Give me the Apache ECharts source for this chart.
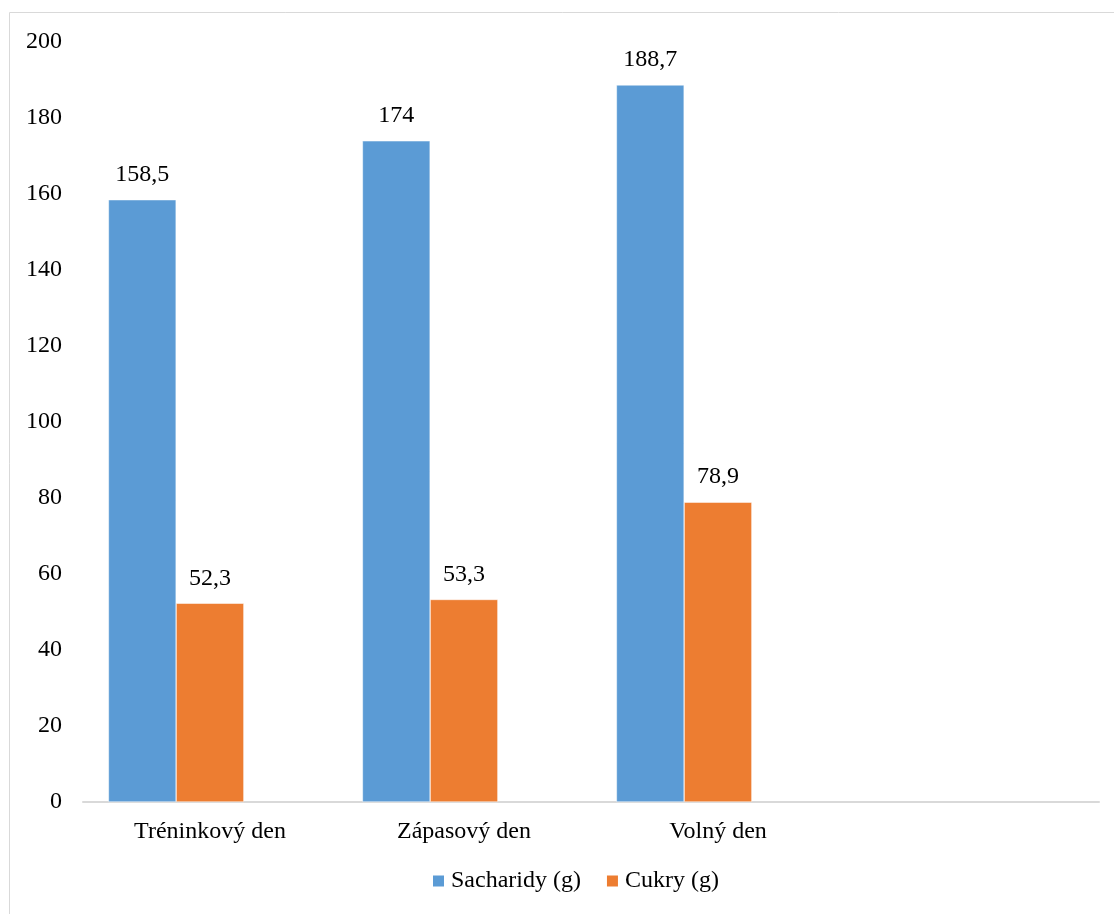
<!DOCTYPE html>
<html>
<head>
<meta charset="utf-8">
<script src="https://cdn.jsdelivr.net/npm/echarts@6/dist/echarts.min.js"></script>
<style>html,body{margin:0;padding:0;background:#fff}#c{width:1114px;height:914px}</style>
</head>
<body>
<div id="c"></div>
<script>
const categories = ['Tréninkový den', 'Zápasový den', 'Volný den', ''];
const sacharidy = [158.5, 174, 188.7, null];
const cukry = [52.3, 53.3, 78.9, null];
const emptySeries = [null, null, null, null];
const yTicks = { min: 0, max: 200, interval: 20 };

const font = '"Liberation Serif", "Times New Roman", serif';
const fs = 24;
const fmt = p => String(p.value).replace('.', ',');
const chart = echarts.init(document.getElementById('c'));
chart.setOption({
  animation: false,
  textStyle: { fontFamily: font },
  graphic: [{
    type: 'rect', shape: { x: 9.5, y: 12.5, width: 1120, height: 920 },
    style: { fill: 'none', stroke: '#d9d9d9', lineWidth: 1 }, silent: true
  }],
  grid: { left: 83, right: 15, top: 42, bottom: 112 },
  legend: {
    data: ['Sacharidy (g)', 'Cukry (g)'],
    bottom: 16, left: 426,
    itemWidth: 13, itemHeight: 13, itemGap: 24, icon: 'rect',
    textStyle: { fontFamily: font, fontSize: fs, color: '#000', padding: [0, 0, 0, 1] }
  },
  xAxis: {
    type: 'category', data: categories,
    axisLine: { lineStyle: { color: '#d9d9d9', width: 2 } },
    axisTick: { show: false },
    axisLabel: { fontFamily: font, fontSize: fs, color: '#000', margin: 18 }
  },
  yAxis: {
    type: 'value', min: yTicks.min, max: yTicks.max, interval: yTicks.interval,
    axisLine: { show: false }, axisTick: { show: false }, splitLine: { show: false },
    axisLabel: { fontFamily: font, fontSize: fs, color: '#000', margin: 21 }
  },
  series: [
    { name: 'Sacharidy (g)', type: 'bar', data: sacharidy, barGap: '0%', barCategoryGap: '20%',
      itemStyle: { color: '#5B9BD5', borderColor: '#ffffff', borderWidth: 0.5 },
      label: { show: true, position: 'top', distance: 13, fontFamily: font, fontSize: fs, color: '#000', formatter: fmt } },
    { name: 'Cukry (g)', type: 'bar', data: cukry, barGap: '0%', barCategoryGap: '20%',
      itemStyle: { color: '#ED7D31', borderColor: '#ffffff', borderWidth: 0.5 },
      label: { show: true, position: 'top', distance: 13, fontFamily: font, fontSize: fs, color: '#000', formatter: fmt } },
    { name: 'empty', type: 'bar', data: emptySeries, barGap: '0%', barCategoryGap: '20%',
      itemStyle: { color: 'transparent' } }
  ]
});
</script>
</body>
</html>
